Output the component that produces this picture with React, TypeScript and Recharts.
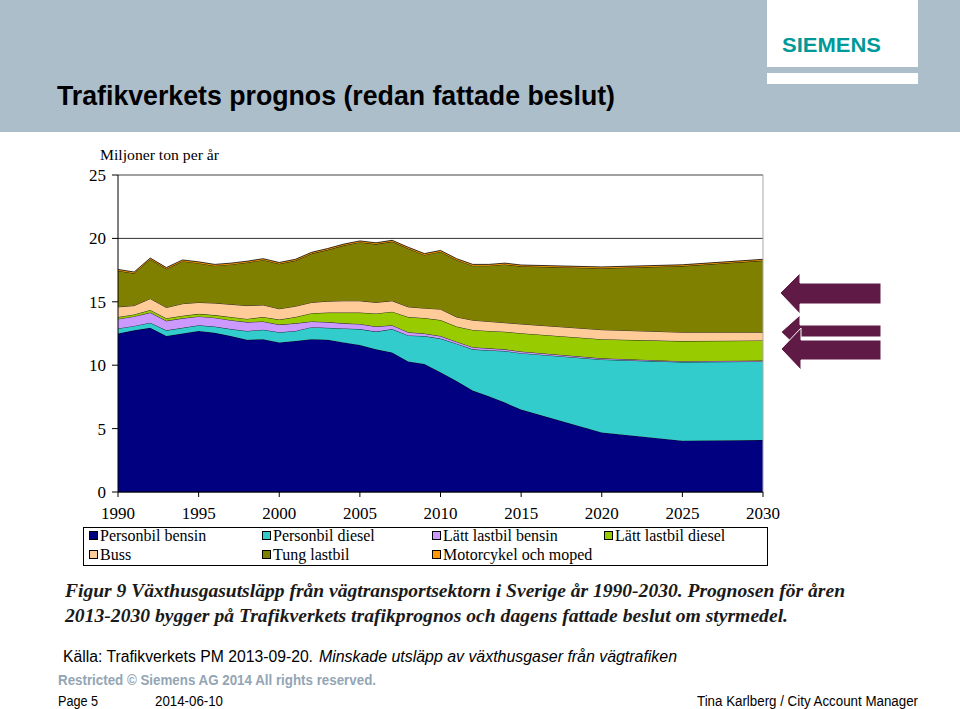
import React from 'react';
import { AreaChart, Area, XAxis, YAxis, CartesianGrid, ReferenceLine } from 'recharts';

const years = [1990, 1991, 1992, 1993, 1994, 1995, 1996, 1997, 1998, 1999, 2000, 2001, 2002, 2003, 2004, 2005, 2006, 2007, 2008, 2009, 2010, 2011, 2012, 2013, 2014, 2015, 2020, 2025, 2030];
const personbilBensin = [12.5, 12.75, 12.95, 12.3, 12.5, 12.7, 12.55, 12.3, 12.0, 12.05, 11.8, 11.9, 12.05, 12.0, 11.8, 11.6, 11.25, 11.0, 10.3, 10.1, 9.45, 8.75, 8.0, 7.55, 7.05, 6.5, 4.7, 4.05, 4.1];
const personbilDiesel = [0.4, 0.35, 0.4, 0.45, 0.45, 0.45, 0.5, 0.55, 0.7, 0.75, 0.8, 0.8, 0.95, 0.95, 1.1, 1.25, 1.4, 1.85, 2.05, 2.2, 2.65, 2.95, 3.25, 3.63, 4.07, 4.45, 5.75, 6.2, 6.2];
const lattLastbilBensin = [0.75, 0.75, 0.8, 0.75, 0.75, 0.7, 0.7, 0.7, 0.7, 0.65, 0.6, 0.6, 0.45, 0.45, 0.4, 0.4, 0.4, 0.3, 0.25, 0.2, 0.2, 0.15, 0.17, 0.15, 0.13, 0.13, 0.09, 0.07, 0.07];
const lattLastbilDiesel = [0.15, 0.15, 0.2, 0.2, 0.2, 0.2, 0.2, 0.25, 0.25, 0.35, 0.4, 0.5, 0.65, 0.75, 0.85, 0.9, 1.03, 1.07, 1.2, 1.22, 1.26, 1.2, 1.36, 1.37, 1.39, 1.44, 1.51, 1.58, 1.58];
const buss = [0.8, 0.7, 0.9, 0.85, 0.95, 0.9, 0.95, 1.0, 1.05, 0.95, 0.85, 0.85, 0.85, 0.9, 0.93, 0.93, 0.87, 0.86, 0.8, 0.78, 0.86, 0.75, 0.77, 0.75, 0.71, 0.73, 0.75, 0.7, 0.65];
const tungLastbil = [2.85, 2.55, 3.1, 3.05, 3.35, 3.1, 2.95, 3.15, 3.4, 3.55, 3.55, 3.6, 3.85, 4.05, 4.37, 4.62, 4.6, 4.67, 4.6, 4.2, 4.53, 4.5, 4.3, 4.4, 4.6, 4.55, 4.85, 5.22, 5.65];
const motorcykel = [0.1, 0.1, 0.1, 0.1, 0.1, 0.1, 0.1, 0.1, 0.1, 0.1, 0.1, 0.1, 0.1, 0.1, 0.1, 0.1, 0.1, 0.1, 0.1, 0.1, 0.1, 0.1, 0.1, 0.1, 0.1, 0.1, 0.1, 0.1, 0.1];

const xTicks = [1990, 1995, 2000, 2005, 2010, 2015, 2020, 2025, 2030];
const yTicks = [0, 5, 10, 15, 20, 25];

const series = [
  { key: 'pb', name: 'Personbil bensin', color: '#000080', values: personbilBensin },
  { key: 'pd', name: 'Personbil diesel', color: '#33CCCC', values: personbilDiesel },
  { key: 'lb', name: 'Lätt lastbil bensin', color: '#CC99FF', values: lattLastbilBensin },
  { key: 'ld', name: 'Lätt lastbil diesel', color: '#99CC00', values: lattLastbilDiesel },
  { key: 'bu', name: 'Buss', color: '#FFCC99', values: buss },
  { key: 'tl', name: 'Tung lastbil', color: '#808000', values: tungLastbil },
  { key: 'mc', name: 'Motorcykel och moped', color: '#FF9900', values: motorcykel },
];

const legendOrder = ['pb', 'pd', 'lb', 'ld', 'bu', 'tl', 'mc'];

const data = years.map((y, i) => {
  const row: Record<string, number> = { year: y };
  series.forEach((s) => { row[s.key] = s.values[i]; });
  return row;
});

const serif = '"Liberation Serif", "Times New Roman", serif';
const sans = '"Liberation Sans", Arial, sans-serif';

export default function App() {
  const legendCols = [89, 262, 432, 604];
  const legendRows = [541, 560];
  return (
    <div style={{ position: 'absolute', left: 0, top: 0, width: 960, height: 709, background: '#fff', overflow: 'hidden' }}>
      <div style={{ position: 'absolute', left: 0, top: 140, width: 800, height: 390, zIndex: 0 }}>
        <AreaChart width={800} height={390} data={data} margin={{ top: 35, right: 37, left: 0, bottom: 8 }}>
          <CartesianGrid vertical={false} stroke="#333" strokeWidth={1} />
          <XAxis
            dataKey="year"
            type="number"
            domain={[1990, 2030]}
            ticks={xTicks}
            height={30}
            tickSize={5}
            tickMargin={10}
            axisLine={{ stroke: '#000' }}
            tickLine={{ stroke: '#000' }}
            tick={{ fill: '#000', fontSize: 17, fontFamily: serif }}
          />
          <YAxis
            type="number"
            domain={[0, 25]}
            ticks={yTicks}
            width={118}
            tickSize={6}
            tickMargin={6}
            axisLine={{ stroke: '#000' }}
            tickLine={{ stroke: '#000' }}
            tick={{ fill: '#000', fontSize: 17, fontFamily: serif }}
          />
          {series.map((s) => (
            <Area
              key={s.key}
              type="linear"
              dataKey={s.key}
              name={s.name}
              stackId="a"
              fill={s.color}
              fillOpacity={1}
              stroke="#000"
              strokeWidth={0.8}
              dot={false}
              activeDot={false}
              isAnimationActive={false}
            />
          ))}
          <ReferenceLine y={25} stroke="#a8a8a8" strokeWidth={1} />
          <ReferenceLine x={2030} stroke="#a8a8a8" strokeWidth={1} />
        </AreaChart>
      </div>
      <svg width={960} height={709} style={{ position: 'absolute', left: 0, top: 0, zIndex: 1, pointerEvents: 'none' }}>
        <rect x={0} y={0} width={960} height={132} fill="#adbecb" />
        <rect x={767} y={0} width={151} height={67} fill="#fff" />
        <rect x={767} y={73} width={151} height={11} fill="#fff" />
        <text x={782} y={52} fontFamily={sans} fontWeight="bold" fontSize={21} fill="#009999" textLength={99} lengthAdjust="spacingAndGlyphs">SIEMENS</text>
        <text x={57} y={105} fontFamily={sans} fontWeight="bold" fontSize={28} fill="#000" textLength={558} lengthAdjust="spacingAndGlyphs">Trafikverkets prognos (redan fattade beslut)</text>

        <text x={100} y={160} fontFamily={serif} fontSize={15} fill="#000" textLength={119} lengthAdjust="spacingAndGlyphs">Miljoner ton per år</text>

        <rect x={83.5} y={527.5} width={684} height={38} fill="none" stroke="#000" strokeWidth={1} />
        {legendOrder.map((k, i) => {
          const s = series.find((z) => z.key === k)!;
          const cx = legendCols[i % 4];
          const cy = legendRows[Math.floor(i / 4)];
          return (
            <g key={k}>
              <rect x={cx + 0.5} y={cy - 9.5} width={8} height={8} fill={s.color} stroke="#000" strokeWidth={1} />
              <text x={cx + 11} y={cy} fontFamily={serif} fontSize={16} fill="#000">{s.name}</text>
            </g>
          );
        })}

        <text x={65} y={597} fontFamily={serif} fontWeight="bold" fontStyle="italic" fontSize={19} fill="#1a1a1a" textLength={780} lengthAdjust="spacingAndGlyphs">Figur 9 Växthusgasutsläpp från vägtransportsektorn i Sverige år 1990-2030. Prognosen för åren</text>
        <text x={65} y={622} fontFamily={serif} fontWeight="bold" fontStyle="italic" fontSize={19} fill="#1a1a1a" textLength={723} lengthAdjust="spacingAndGlyphs">2013-2030 bygger på Trafikverkets trafikprognos och dagens fattade beslut om styrmedel.</text>

        <text x={63} y={662} fontFamily={sans} fontSize={16} fill="#000" textLength={250} lengthAdjust="spacingAndGlyphs">Källa: Trafikverkets PM 2013-09-20.</text>
        <text x={319} y={662} fontFamily={sans} fontStyle="italic" fontSize={16} fill="#000" textLength={358} lengthAdjust="spacingAndGlyphs">Minskade utsläpp av växthusgaser från vägtrafiken</text>

        <text x={58} y={685} fontFamily={sans} fontWeight="bold" fontSize={14} fill="#93a5b4" textLength={318} lengthAdjust="spacingAndGlyphs">Restricted © Siemens AG 2014 All rights reserved.</text>

        <text x={58} y={706} fontFamily={sans} fontSize={14} fill="#000" textLength={40} lengthAdjust="spacingAndGlyphs">Page 5</text>
        <text x={155} y={706} fontFamily={sans} fontSize={14} fill="#000" textLength={68} lengthAdjust="spacingAndGlyphs">2014-06-10</text>
        <text x={697} y={706} fontFamily={sans} fontSize={14} fill="#000" textLength={221} lengthAdjust="spacingAndGlyphs">Tina Karlberg / City Account Manager</text>

        <g fill="#5f1b45" stroke="#fff" strokeWidth={1}>
          <polygon points="780,293 800,273 800,283 881,283 881,304 800,304 800,314" />
          <polygon points="781,332 800,315 800,325 881,325 881,337 800,337 800,350" />
          <polygon points="781,349 801,328 801,340 881,340 881,360 801,360 801,370" />
        </g>
      </svg>
    </div>
  );
}
